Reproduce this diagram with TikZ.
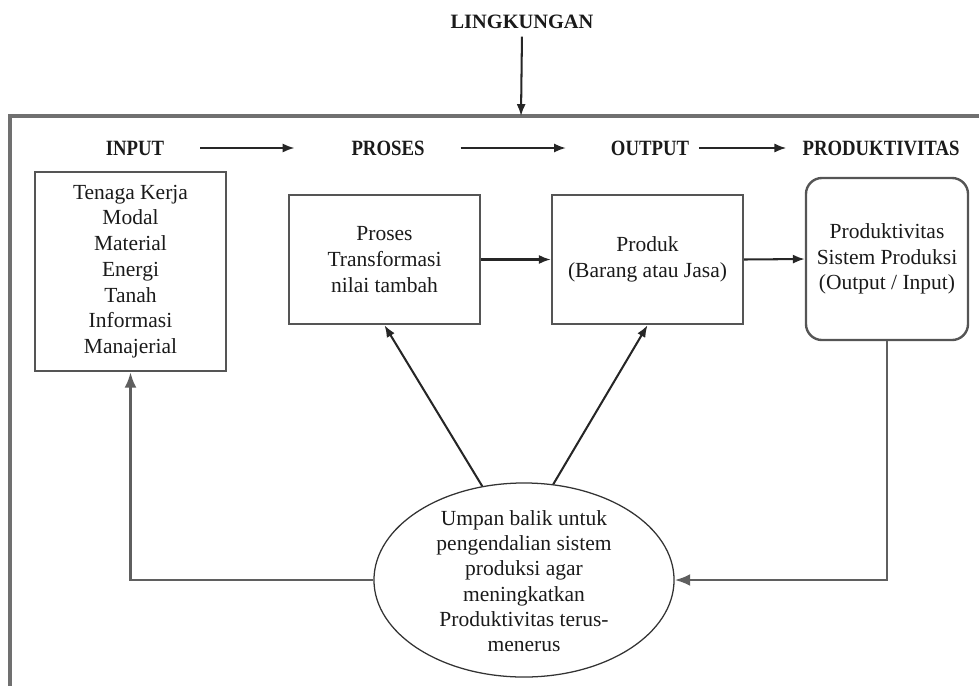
\documentclass[tikz,border=0pt]{standalone}
\usepackage{fontspec}
\setmainfont{Liberation Serif}
\newfontfamily\lblfont[FakeStretch=0.86]{Liberation Serif}
\usetikzlibrary{arrows.meta,shapes.geometric}
\definecolor{frm}{HTML}{707070}
\definecolor{bdr}{HTML}{555555}
\definecolor{txt}{HTML}{1a1a1a}
\tikzset{
  box/.style={draw=bdr,line width=1.7pt,align=center,text=txt,font=\fontsize{15.3}{18.3}\selectfont},
  lbl/.style={text=txt,font=\lblfont\bfseries\fontsize{15.5}{18}\selectfont},
  flow/.style={draw=black!85,line width=1.45pt,-{Latex[length=8.5pt,width=6.5pt]}},
  fback/.style={draw=frm!85!black,line width=1.8pt,-{Latex[length=11pt,width=8.5pt]}}
}

\begin{document}
\begin{tikzpicture}[x=0.025cm,y=-0.025cm]
  \useasboundingbox (0,0) rectangle (979,686);
  \draw[frm,line width=2.2pt] (979,116) -- (10,116) -- (10,686);
  \coordinate (top) at (521,116);
  \node[text=txt,font=\bfseries\fontsize{14.5}{17}\selectfont] (lk) at (522,22) {LINGKUNGAN};
  \draw[flow,shorten <=2pt] (lk.south) -- (top);

  \node[lbl] (lin) at (135,148) {INPUT};
  \node[lbl] (lps) at (388,148) {PROSES};
  \node[lbl] (lout) at (650,148) {OUTPUT};
  \node[lbl] (lprt) at (881,148) {PRODUKTIVITAS};
  \draw[flow,shorten <=0.78cm,shorten >=1.3cm] (lin.east) -- (lps.west);
  \draw[flow,shorten <=0.78cm,shorten >=1cm] (lps.east) -- (lout.west);
  \draw[flow,shorten <=0.12cm,shorten >=0.28cm] (lout.east) -- (lprt.west);

  \node[box,minimum width=4.775cm,minimum height=4.975cm] (inp) at (130.5,271.5) {Tenaga Kerja\\Modal\\Material\\Energi\\Tanah\\Informasi\\Manajerial};
  \node[box,minimum width=4.775cm,minimum height=3.225cm] (pro) at (384.5,259.5) {Proses\\Transformasi\\nilai tambah};
  \node[box,minimum width=4.775cm,minimum height=3.225cm] (prd) at (647.5,259.5) {Produk\\(Barang atau Jasa)};
  \node[box,rounded corners=0.4cm,minimum width=4.05cm,minimum height=4.05cm] (prt) at (887,259) {Produktivitas\\Sistem Produksi\\(Output / Input)};

  \node[ellipse,draw=black!80,line width=0.9pt,minimum width=7.5cm,minimum height=4.85cm] (fb) at (524,580) {};
  \node[align=center,text=txt,font=\fontsize{15.3}{18}\selectfont] (fbt) at (524,581) {Umpan balik untuk\\pengendalian sistem\\produksi agar\\meningkatkan\\Produktivitas terus-\\menerus};

  \draw[flow] (pro.east) -- (prd.west);
  \draw[flow] (prd.east) -- (prt.west);
  \draw[flow] (fb.114) -- (pro.south);
  \draw[flow] (fb.73) -- (prd.south);
  \draw[fback] (fb.west) -| (inp.south);
  \draw[fback] (prt.south) |- (fb.east);
\end{tikzpicture}
\end{document}
